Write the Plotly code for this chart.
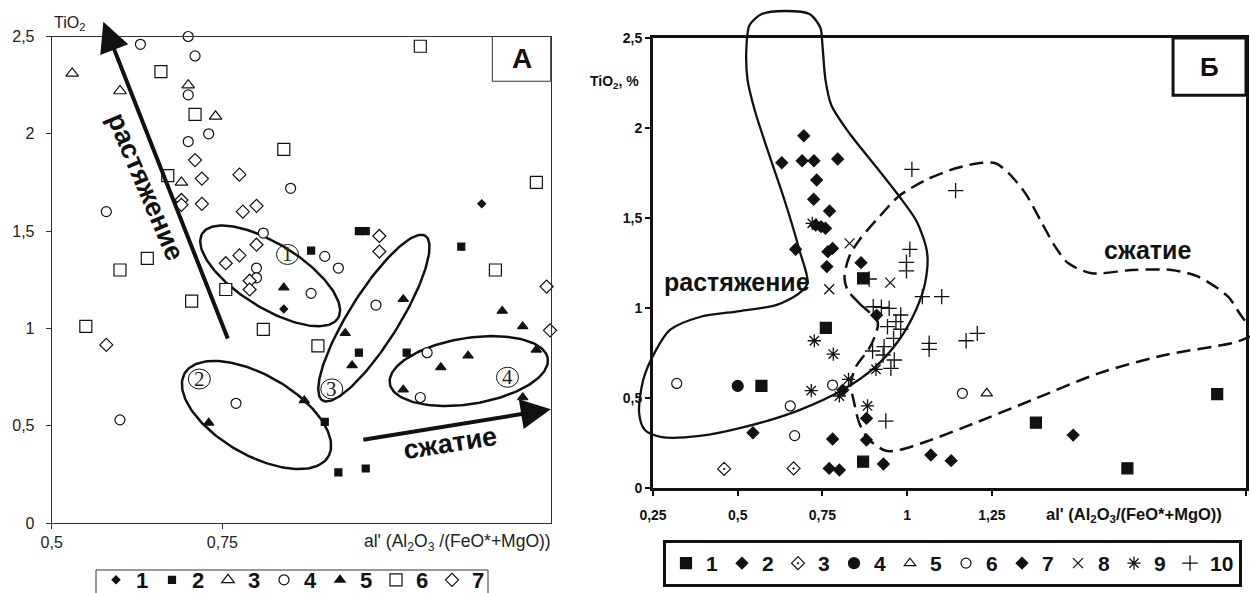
import numpy as np
import plotly.graph_objects as go

W, H = 1250, 593
FONT = "Liberation Sans, Arial, sans-serif"
INK = "#111111"

# ---------------- Panel А: data ----------------
a1_x = [0.84, 1.13]
a1_y = [1.10, 1.64]
a2_x = [0.88, 0.95, 0.96, 0.95, 1.02, 0.90, 0.92, 0.96, 1.10]
a2_y = [1.40, 1.50, 1.50, 0.875, 0.875, 0.52, 0.26, 0.28, 1.42]
a3_x = [0.53, 0.60, 0.70, 0.74, 0.69]
a3_y = [2.31, 2.22, 2.25, 2.09, 1.75]
a4_x = [0.63, 0.70, 0.71, 0.70, 0.70, 0.73, 0.58, 0.85, 0.81, 0.80, 0.80,
        0.88, 0.90, 0.92, 0.975, 0.77, 1.05, 1.04, 0.60]
a4_y = [2.46, 2.50, 2.40, 2.20, 1.96, 2.00, 1.60, 1.72, 1.49, 1.31, 1.26,
        1.18, 1.37, 1.31, 1.12, 0.615, 0.875, 0.645, 0.53]
a5_x = [0.84, 0.93, 0.94, 1.015, 0.87, 0.73, 1.015, 1.16, 1.19, 1.21, 1.11, 1.07, 1.19]
a5_y = [1.21, 0.975, 0.81, 1.15, 0.63, 0.515, 0.685, 1.09, 1.01, 0.89, 0.86, 0.80, 0.645]
a6_x = [0.66, 0.71, 0.84, 0.67, 0.64, 0.60, 0.755, 0.705, 1.04, 1.21, 1.15, 0.55, 0.81, 0.89]
a6_y = [2.32, 2.10, 1.92, 1.785, 1.36, 1.30, 1.20, 1.14, 2.45, 1.75, 1.30, 1.01, 0.995, 0.91]
a7_x = [0.71, 0.72, 0.775, 0.69, 0.69, 0.72, 0.78, 0.80, 0.80, 0.775, 0.755,
        0.79, 0.79, 0.58, 0.98, 0.98, 1.225, 1.23]
a7_y = [1.865, 1.77, 1.79, 1.66, 1.635, 1.64, 1.60, 1.63, 1.43, 1.375, 1.335,
        1.245, 1.20, 0.915, 1.475, 1.395, 1.215, 0.99]

# field ellipses: centre (data), semi-axes (px), tilt (deg, clockwise)
ell_cx = [0.82, 0.80, 0.972, 1.111]
ell_cy = [1.27, 0.555, 1.053, 0.781]
ell_a = [80, 83, 97, 80]
ell_b = [32, 40, 25, 33]
ell_ang = [32, 30, -58, -9]
ell_lab = ["1", "2", "3", "4"]
lab_x = [0.8455, 0.7163, 0.9103, 1.1677]
lab_y = [1.380, 0.740, 0.689, 0.749]

# ---------------- Panel Б: data ----------------
b1_x = [0.87, 0.76, 0.57, 0.87, 1.38, 1.65, 1.915]
b1_y = [1.165, 0.89, 0.567, 0.146, 0.363, 0.109, 0.521]
b2_x = [0.81, 0.88, 0.78, 0.88, 0.77, 0.80, 0.93, 1.07, 1.13, 0.545, 1.49, 0.91]
b2_y = [0.544, 0.387, 0.272, 0.267, 0.109, 0.100, 0.133, 0.183, 0.152, 0.307, 0.294, 0.96]
b3_x = [0.46, 0.665]
b3_y = [0.106, 0.109]
b4_x = [0.50]
b4_y = [0.567]
b5_x = [1.235]
b5_y = [0.526]
b6_x = [0.32, 0.78, 0.655, 0.668, 1.163]
b6_y = [0.581, 0.572, 0.456, 0.291, 0.526]
b7_x = [0.695, 0.63, 0.69, 0.725, 0.795, 0.733, 0.724, 0.771, 0.73, 0.746,
        0.759, 0.671, 0.766, 0.78, 0.763, 0.864]
b7_y = [1.957, 1.807, 1.818, 1.818, 1.828, 1.711, 1.604, 1.539, 1.461, 1.452,
        1.443, 1.326, 1.313, 1.331, 1.23, 1.252]
b8_x = [0.83, 0.77, 0.95]
b8_y = [1.359, 1.104, 1.141]
b9_x = [0.72, 0.726, 0.782, 0.717, 0.80, 0.827, 0.908, 0.883]
b9_y = [1.47, 0.818, 0.744, 0.541, 0.511, 0.604, 0.659, 0.456]
b10_x = [1.014, 1.143, 1.008, 0.998, 0.998, 0.888, 1.045, 1.102, 0.90, 0.947,
         0.981, 0.967, 0.942, 0.981, 0.96, 0.932, 0.898, 0.929, 0.962, 0.952,
         1.065, 1.065, 1.174, 1.207, 0.937, 0.924]
b10_y = [1.77, 1.652, 1.326, 1.254, 1.206, 1.161, 1.063, 1.063, 1.007, 0.998,
         0.961, 0.924, 0.896, 0.882, 0.831, 0.785, 0.761, 0.739, 0.711, 0.665,
         0.804, 0.77, 0.818, 0.859, 0.372, 1.004]

# extension field outline (solid)
ext_x = [0.638, 0.712, 0.744, 0.750, 0.759, 0.776, 0.829, 0.909, 0.976, 1.029,
         1.059, 1.053, 1.026, 0.976, 0.903, 0.809, 0.682, 0.521, 0.388, 0.276,
         0.226, 0.209, 0.221, 0.256, 0.300, 0.388, 0.506, 0.615, 0.682, 0.706,
         0.682, 0.638, 0.588, 0.550, 0.529, 0.526, 0.535, 0.571, 0.638]
ext_y = [2.650, 2.633, 2.556, 2.461, 2.267, 2.128, 1.972, 1.783, 1.622, 1.478,
         1.306, 1.139, 0.989, 0.822, 0.667, 0.544, 0.433, 0.339, 0.289, 0.283,
         0.322, 0.417, 0.600, 0.756, 0.878, 0.950, 0.983, 1.017, 1.083, 1.139,
         1.322, 1.600, 1.878, 2.100, 2.267, 2.461, 2.572, 2.633, 2.650]
# compression field outline (dashed)
cmp_x = [0.824, 0.859, 0.913, 0.908, 0.888, 0.849, 0.834, 0.844, 0.859, 0.888,
         0.937, 0.976, 1.055, 1.173, 1.369, 1.565, 1.761, 1.957, 2.001, 2.041,
         1.996, 1.947, 1.859, 1.780, 1.663, 1.545, 1.476, 1.437, 1.398, 1.349,
         1.300, 1.261, 1.221, 1.143, 1.055, 0.976, 0.918, 0.859, 0.829, 0.815, 0.824]
cmp_y = [1.100, 1.026, 0.924, 0.859, 0.776, 0.674, 0.582, 0.471, 0.359, 0.267,
         0.207, 0.211, 0.257, 0.341, 0.489, 0.637, 0.739, 0.804, 0.832, 0.878,
         0.933, 1.063, 1.174, 1.211, 1.211, 1.193, 1.248, 1.341, 1.471, 1.637,
         1.748, 1.804, 1.807, 1.776, 1.711, 1.622, 1.507, 1.378, 1.285, 1.174, 1.100]

# ---------------- geometry ----------------
A_L, A_R, A_T, A_B = 51.7, 550.7, 36.5, 523.0
A_XR, A_YR = [0.5, 1.231], [0.0, 2.5]
B_L, B_R, B_T, B_B = 653.0, 1246.0, 38.0, 488.0
B_XR, B_YR = [0.25, 2.0], [0.0, 2.5]

kxA = (A_R - A_L) / (A_XR[1] - A_XR[0])
kyA = (A_B - A_T) / (A_YR[1] - A_YR[0])
kxB = (B_R - B_L) / (B_XR[1] - B_XR[0])
kyB = (B_B - B_T) / (B_YR[1] - B_YR[0])


def ellipse(cx, cy, a, b, ang):
    t = np.linspace(0, 2 * np.pi, 160)
    th = np.radians(ang)
    dx = a * np.cos(t) * np.cos(th) - b * np.sin(t) * np.sin(th)
    dy = a * np.cos(t) * np.sin(th) + b * np.sin(t) * np.cos(th)
    return cx + dx / kxA, cy - dy / kyA


fig = go.Figure()

# ellipses (panel А)
for cx, cy, a, b, ang in zip(ell_cx, ell_cy, ell_a, ell_b, ell_ang):
    ex, ey = ellipse(cx, cy, a, b, ang)
    fig.add_trace(go.Scatter(x=ex, y=ey, mode="lines", line=dict(color=INK, width=2.5),
                             showlegend=False, hoverinfo="skip", xaxis="x", yaxis="y"))


def mk(symbol, size, fill=INK, lw=1.2):
    return dict(symbol=symbol, size=size, color=fill, line=dict(color=INK, width=lw))


a_series = [
    ("1", a1_x, a1_y, mk("diamond", 6)),
    ("2", a2_x, a2_y, mk("square", 7)),
    ("3", a3_x, a3_y, mk("triangle-up", 11, "white")),
    ("4", a4_x, a4_y, mk("circle", 10, "white")),
    ("5", a5_x, a5_y, mk("triangle-up", 9)),
    ("6", a6_x, a6_y, mk("square", 12, "white")),
    ("7", a7_x, a7_y, mk("diamond", 10, "white")),
]
for name, xs, ys, m in a_series:
    fig.add_trace(go.Scatter(x=xs, y=ys, mode="markers", name=name, marker=m,
                             xaxis="x", yaxis="y", legend="legend", cliponaxis=False))

# panel Б outlines on a full-page axis pair sharing panel Б's scale
fig.add_trace(go.Scatter(x=ext_x, y=ext_y, mode="lines",
                         line=dict(color=INK, width=2.3, shape="spline", smoothing=0.8),
                         showlegend=False, hoverinfo="skip", xaxis="x2", yaxis="y2"))
fig.add_trace(go.Scatter(x=cmp_x, y=cmp_y, mode="lines",
                         line=dict(color=INK, width=2.5, dash="14px,7px", shape="spline", smoothing=0.8),
                         showlegend=False, hoverinfo="skip", xaxis="x2", yaxis="y2"))

# "-open" symbols take their stroke from marker.color
b_series = [
    ("1", b1_x, b1_y, mk("square", 11)),
    ("2", b2_x, b2_y, mk("diamond", 9)),
    ("3", b3_x, b3_y, mk("diamond-open-dot", 10, INK)),
    ("4", b4_x, b4_y, mk("circle", 11)),
    ("5", b5_x, b5_y, mk("triangle-up", 10, "white")),
    ("6", b6_x, b6_y, mk("circle", 10, "white")),
    ("7", b7_x, b7_y, mk("diamond", 9)),
    ("8", b8_x, b8_y, mk("x-thin-open", 10, INK, 1.3)),
    ("9", b9_x, b9_y, mk("asterisk-open", 11, INK, 1.3)),
    ("10", b10_x, b10_y, mk("cross-thin-open", 11, INK, 1.3)),
]
for name, xs, ys, m in b_series:
    fig.add_trace(go.Scatter(x=xs, y=ys, mode="markers", name=name, marker=m,
                             xaxis="x3", yaxis="y3", legend="legend2",
                             legendwidth=24 if name == "10" else None))

# ---------------- axes ----------------
tick_y = [0, 0.5, 1, 1.5, 2, 2.5]
tick_yt = ["0", "0,5", "1", "1,5", "2", "2,5"]

axA = dict(showline=True, linecolor="#333", linewidth=1, mirror=True, ticks="outside",
           ticklen=5, tickcolor="#333", showgrid=False, zeroline=False,
           tickfont=dict(family=FONT, size=16, color="#222"))
axB = dict(showline=True, linecolor=INK, linewidth=3, mirror=True, ticks="outside",
           ticklen=5, tickwidth=2, tickcolor=INK, showgrid=False, zeroline=False,
           tickfont=dict(family=FONT, size=14, color=INK, weight="bold"))

x2_range = [B_XR[0] - B_L / kxB, B_XR[0] + (W - B_L) / kxB]
y2_range = [B_YR[0] - (H - B_B) / kyB, B_YR[0] + B_B / kyB]

fig.update_layout(
    width=W, height=H, margin=dict(l=0, r=0, t=0, b=0, autoexpand=False),
    paper_bgcolor="white", plot_bgcolor="rgba(0,0,0,0)",
    xaxis=dict(axA, domain=[A_L / W, A_R / W], range=A_XR, tickvals=[0.5, 0.75],
               ticktext=["0,5", "0,75"], ticklabelstandoff=0),
    yaxis=dict(axA, domain=[1 - A_B / H, 1 - A_T / H], range=A_YR, tickvals=tick_y,
               ticktext=tick_yt, ticklabelstandoff=8),
    xaxis2=dict(domain=[0, 1], range=x2_range, visible=False, anchor="y2"),
    yaxis2=dict(domain=[0, 1], range=y2_range, visible=False, anchor="x2"),
    xaxis3=dict(axB, domain=[B_L / W, B_R / W], range=B_XR,
                tickvals=[0.25, 0.5, 0.75, 1, 1.25, 2],
                ticktext=["0,25", "0,5", "0,75", "1", "1,25", "2"],
                ticklabelstandoff=7, anchor="y3"),
    yaxis3=dict(axB, domain=[1 - B_B / H, 1 - B_T / H], range=B_YR, tickvals=tick_y,
                ticktext=tick_yt, anchor="x3"),
    legend=dict(orientation="h", x=96 / W, y=1 - 559 / H, xanchor="left", yanchor="top",
                borderwidth=0, entrywidth=11, entrywidthmode="pixels",
                font=dict(family=FONT, size=22, color=INK, weight="bold"),
                bgcolor="rgba(0,0,0,0)", valign="middle"),
    legend2=dict(orientation="h", x=663 / W, y=1 - 540 / H, xanchor="left", yanchor="top",
                 bordercolor=INK, borderwidth=3, entrywidth=11, entrywidthmode="pixels",
                 font=dict(family=FONT, size=21, color=INK, weight="bold"),
                 bgcolor="white", valign="middle"),
)

ann = []
shapes = []

# frame of the panel А key (runs off the bottom edge)
shapes.append(dict(type="rect", xref="paper", yref="paper", x0=96 / W, x1=488 / W,
                   y0=-0.05, y1=1 - 570 / H, line=dict(color="#333", width=1), layer="below"))

# axis titles
ann.append(dict(text="TiO<sub>2</sub>", x=52 / W, y=1 - 24 / H, xref="paper", yref="paper",
                xanchor="left", yanchor="middle", showarrow=False,
                font=dict(family=FONT, size=16, color="#222")))
ann.append(dict(text="al' (Al<sub>2</sub>O<sub>3</sub> /(FeO*+MgO))", x=553 / W, y=1 - 542 / H,
                xref="paper", yref="paper", xanchor="right", yanchor="middle", showarrow=False,
                font=dict(family=FONT, size=17.5, color="#222")))
ann.append(dict(text="TiO<sub>2</sub>, %", x=641 / W, y=1 - 82 / H, xref="paper", yref="paper",
                xanchor="right", yanchor="middle", showarrow=False,
                font=dict(family=FONT, size=14, color=INK, weight="bold")))
ann.append(dict(text="al' (Al<sub>2</sub>O<sub>3</sub>/(FeO*+MgO))", x=1224 / W, y=1 - 515 / H,
                xref="paper", yref="paper", xanchor="right", yanchor="middle", showarrow=False,
                bgcolor="white", font=dict(family=FONT, size=16.5, color=INK, weight="bold")))

# panel tags
shapes.append(dict(type="rect", xref="x domain", yref="y domain", x0=0.883, x1=1.0, y0=0.908, y1=1.0,
                   line=dict(color="#333", width=1), fillcolor="white", layer="above"))
ann.append(dict(text="А", xref="x domain", yref="y domain", x=0.9415, y=0.954, showarrow=False,
                xanchor="center", yanchor="middle",
                font=dict(family=FONT, size=28, color=INK, weight="bold")))
shapes.append(dict(type="rect", xref="x3 domain", yref="y3 domain", x0=0.877, x1=1.0, y0=0.873, y1=1.0,
                   line=dict(color=INK, width=3), fillcolor="white", layer="above"))
ann.append(dict(text="Б", xref="x3 domain", yref="y3 domain", x=0.9385, y=0.9365, showarrow=False,
                xanchor="center", yanchor="middle",
                font=dict(family=FONT, size=26, color=INK, weight="bold")))

# circled field numbers
for lx, ly, t in zip(lab_x, lab_y, ell_lab):
    shapes.append(dict(type="circle", xref="x", yref="y", xsizemode="pixel", ysizemode="pixel",
                       xanchor=lx, yanchor=ly, x0=-11, x1=11, y0=-10, y1=10,
                       line=dict(color=INK, width=1), fillcolor="rgba(0,0,0,0)"))
    ann.append(dict(text=t, x=lx, y=ly, xref="x", yref="y", showarrow=False,
                    xanchor="center", yanchor="middle",
                    font=dict(family="Liberation Serif, Times New Roman, serif", size=21, color="#222")))

# trend arrows, panel А
ann.append(dict(x=0.5756, y=2.576, ax=0.7588, ay=0.940, xref="x", yref="y", axref="x", ayref="y",
                text="", showarrow=True, arrowhead=2, arrowsize=1.5, arrowwidth=4, arrowcolor=INK))
ann.append(dict(x=1.2312, y=0.584, ax=0.9543, ay=0.4265, xref="x", yref="y", axref="x", ayref="y",
                text="", showarrow=True, arrowhead=2, arrowsize=1.5, arrowwidth=4, arrowcolor=INK))
ann.append(dict(text="растяжение", x=0.638, y=1.727, xref="x", yref="y", showarrow=False,
                textangle=67, font=dict(family=FONT, size=27, color=INK, weight="bold")))
ann.append(dict(text="сжатие", x=1.084, y=0.411, xref="x", yref="y", showarrow=False,
                textangle=-9, font=dict(family=FONT, size=27, color=INK, weight="bold")))

# field names, panel Б
ann.append(dict(text="растяжение", x=0.4985, y=1.144, xref="x3", yref="y3", showarrow=False,
                font=dict(family=FONT, size=25, color=INK, weight="bold")))
ann.append(dict(text="сжатие", x=1.709, y=1.322, xref="x3", yref="y3", showarrow=False,
                font=dict(family=FONT, size=25, color=INK, weight="bold")))

fig.update_layout(annotations=ann, shapes=shapes)
fig.write_html("out.html")
